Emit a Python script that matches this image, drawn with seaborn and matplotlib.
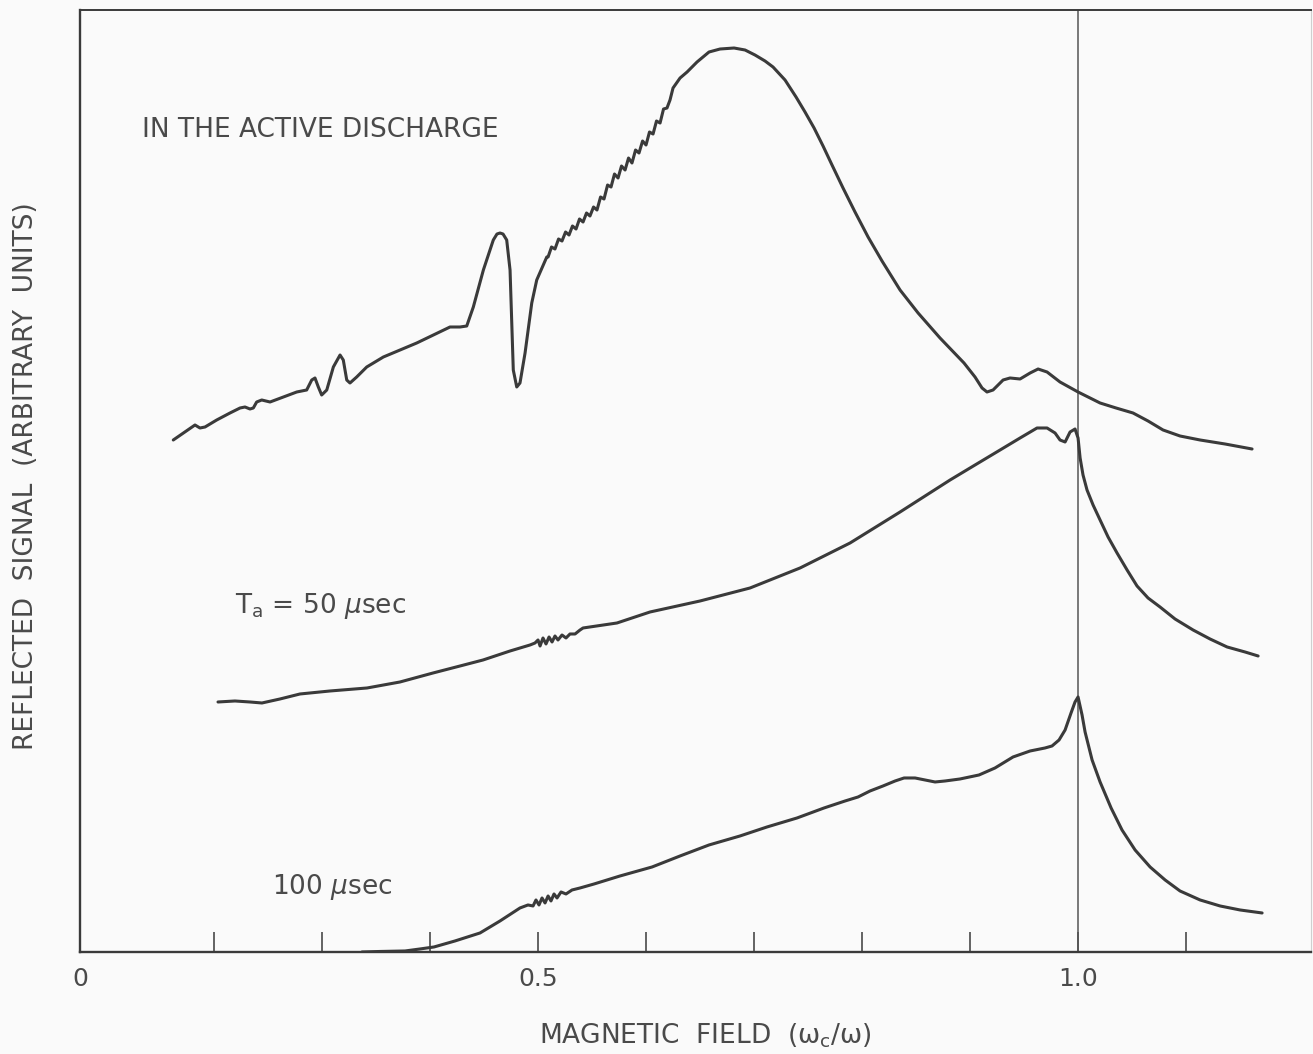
import matplotlib
matplotlib.use("Agg")
import matplotlib.pyplot as plt
import seaborn as sns
import pandas as pd

# Reflected microwave signal vs. magnetic field (omega_c / omega), arbitrary units

# Trace 1: in the active discharge
active_x = [0.1623, 0.1716, 0.1794, 0.1824, 0.1870, 0.1917, 0.2025, 0.2148, 0.2241, 0.2287,
            0.2333, 0.2364, 0.2395, 0.2442, 0.2519, 0.2642, 0.2766, 0.2858, 0.2905, 0.2935,
            0.2966, 0.2997, 0.3044, 0.3105, 0.3167, 0.3197, 0.3229, 0.3259, 0.3321, 0.3414,
            0.3568, 0.3722, 0.3877, 0.4031, 0.4185, 0.4278, 0.4340, 0.4401, 0.4494, 0.4586,
            0.4620, 0.4648, 0.4676, 0.4710, 0.4741, 0.4756, 0.4771, 0.4803, 0.4833, 0.4880,
            0.4942, 0.4988,
            0.5081, 0.5093, 0.5125, 0.5157, 0.5190, 0.5222, 0.5255, 0.5287, 0.5319, 0.5352,
            0.5384, 0.5417, 0.5449, 0.5481, 0.5514, 0.5546, 0.5579, 0.5611, 0.5644, 0.5676,
            0.5708, 0.5741, 0.5773, 0.5806, 0.5838, 0.5870, 0.5903, 0.5935, 0.5968, 0.6000,
            0.6032, 0.6065, 0.6097, 0.6130, 0.6162, 0.6194, 0.6222, 0.6250, 0.6315, 0.6380,
            0.6472, 0.6583, 0.6685, 0.6815, 0.6917, 0.7009, 0.7102, 0.7176, 0.7287, 0.7389,
            0.7472, 0.7556, 0.7639, 0.7722, 0.7824, 0.7935, 0.8056, 0.8185, 0.8352, 0.8519,
            0.8722, 0.8944, 0.9046, 0.9111, 0.9157, 0.9213, 0.9306, 0.9370, 0.9463, 0.9556,
            0.9630, 0.9713, 0.9833, 1.0000, 1.0204, 1.0352, 1.0509, 1.0648, 1.0787, 1.0944,
            1.1130, 1.1361, 1.1611]
active_y = [51.2, 51.9, 52.5, 52.7, 52.4, 52.5, 53.2, 53.9, 54.4, 54.5,
            54.3, 54.4, 55.0, 55.2, 55.0, 55.5, 56.0, 56.2, 57.2, 57.4,
            56.5, 55.7, 56.2, 58.5, 59.7, 59.2, 57.2, 56.9, 57.5, 58.5,
            59.5, 60.2, 60.9, 61.7, 62.5, 62.5, 62.6, 64.5, 68.2, 71.2,
            71.8, 71.9, 71.8, 71.2, 68.2, 63.2, 58.2, 56.5, 56.9, 59.9,
            64.9, 67.2,
            69.5, 69.5, 70.5, 70.3, 71.3, 71.1, 72.0, 71.7, 72.6, 72.3,
            73.3, 73.0, 73.9, 73.6, 74.5, 74.2, 75.5, 75.3, 76.7, 76.5,
            77.8, 77.4, 78.6, 78.2, 79.4, 78.9, 80.2, 79.9, 81.1, 80.7,
            82.0, 81.8, 83.1, 82.9, 84.3, 84.4, 85.2, 86.4, 87.4, 88.0,
            89.0, 90.0, 90.3, 90.4, 90.2, 89.7, 89.1, 88.5, 87.2, 85.5,
            84.0, 82.4, 80.6, 78.7, 76.4, 74.0, 71.5, 69.1, 66.2, 63.9,
            61.4, 58.9, 57.5, 56.4, 56.0, 56.2, 57.2, 57.4, 57.3, 57.9,
            58.3, 58.0, 57.0, 56.0, 54.9, 54.4, 53.9, 53.1, 52.2, 51.6,
            51.2, 50.8, 50.3]

# Trace 2: afterglow, T_a = 50 microseconds
ta50_x = [0.2037, 0.2194, 0.2333, 0.2444, 0.2611, 0.2796, 0.3074, 0.3417, 0.3722, 0.4028,
          0.4278, 0.4491, 0.4741, 0.4926, 0.4972, 0.5000, 0.5019, 0.5046, 0.5074, 0.5102,
          0.5130, 0.5157, 0.5185, 0.5222, 0.5259, 0.5296, 0.5343, 0.5389, 0.5417, 0.5731,
          0.6037, 0.6500, 0.6963, 0.7426, 0.7889, 0.8352, 0.8815, 0.9046, 0.9278,
          0.9463, 0.9620, 0.9713, 0.9787, 0.9833, 0.9880, 0.9926, 0.9972, 1.0000, 1.0019,
          1.0046, 1.0083, 1.0139, 1.0204, 1.0278, 1.0361, 1.0454, 1.0546, 1.0648, 1.0759,
          1.0898, 1.1065, 1.1222, 1.1380, 1.1546, 1.1667]
ta50_y = [25.0, 25.1, 25.0, 24.9, 25.3, 25.8, 26.1, 26.4, 27.0, 27.9,
          28.6, 29.2, 30.1, 30.7, 30.9, 31.2, 30.6, 31.4, 30.8, 31.5,
          31.0, 31.6, 31.2, 31.7, 31.4, 31.8, 31.8, 32.2, 32.4, 32.9,
          34.0, 35.1, 36.4, 38.4, 40.9, 44.0, 47.2, 48.7, 50.2,
          51.4, 52.4, 52.4, 51.9, 51.2, 51.0, 52.0, 52.3, 51.4, 49.4,
          47.7, 46.2, 44.7, 43.2, 41.5, 39.9, 38.2, 36.6, 35.4, 34.5,
          33.3, 32.2, 31.3, 30.5, 30.0, 29.6]

# Trace 3: afterglow, 100 microseconds
ta100_x = [0.3370, 0.3537, 0.3769, 0.3907, 0.4037, 0.4231, 0.4463, 0.4648, 0.4833, 0.4907,
           0.4954, 0.4981, 0.5009, 0.5037, 0.5065, 0.5093, 0.5120, 0.5148, 0.5176, 0.5213,
           0.5259, 0.5315, 0.5389, 0.5519, 0.5759, 0.6056, 0.6315, 0.6583, 0.6870, 0.7120,
           0.7398, 0.7648, 0.7843, 0.7963, 0.8074, 0.8194, 0.8306, 0.8389, 0.8491, 0.8583,
           0.8676, 0.8769, 0.8907, 0.9083, 0.9231, 0.9398, 0.9556, 0.9694, 0.9759, 0.9824,
           0.9880, 0.9935, 0.9972, 1.0000, 1.0037, 1.0065, 1.0130, 1.0204, 1.0306, 1.0407,
           1.0528, 1.0667, 1.0806, 1.0944, 1.1130, 1.1315, 1.1500, 1.1704]
ta100_y = [0.0, 0.05, 0.1, 0.3, 0.5, 1.1, 1.9, 3.1, 4.4, 4.7,
           4.6, 5.2, 4.7, 5.4, 4.9, 5.6, 5.1, 5.8, 5.4, 6.0,
           5.8, 6.2, 6.4, 6.8, 7.6, 8.5, 9.6, 10.7, 11.6, 12.5,
           13.4, 14.4, 15.1, 15.5, 16.1, 16.6, 17.1, 17.4, 17.4, 17.2,
           17.0, 17.1, 17.3, 17.7, 18.4, 19.5, 20.1, 20.4, 20.6, 21.2,
           22.2, 23.9, 25.0, 25.5, 23.7, 22.0, 19.2, 17.0, 14.4, 12.2,
           10.2, 8.5, 7.2, 6.1, 5.2, 4.6, 4.2, 3.9]

# Axis layout values (field units)
x_origin = 0.0759          # left edge of the plot, labelled "0"
x_end = 1.2157
tick_positions = [0.2, 0.3, 0.4, 0.5, 0.6, 0.7, 0.8, 0.9, 1.0, 1.1]
tick_labels = ["", "", "", "0.5", "", "", "", "", "1.0", ""]
cyclotron_line = 1.0

curve_labels = ["IN THE ACTIVE DISCHARGE", "T$_{\\mathrm{a}}$ = 50 $\\mu$sec", "100 $\\mu$sec"]
label_x = [0.1333, 0.2194, 0.2537]
label_y = [82.2, 34.6, 6.5]

sns.set_theme(style="white")
plt.rcParams["font.family"] = ["DejaVu Sans"]

ink = "#3a3a3a"
text_ink = "#4a4a4a"

fig = plt.figure(figsize=(13.13, 10.54), dpi=100, facecolor="#fafafa")
ax = fig.add_axes([0.0609, 0.0968, 0.9376, 0.8937])
ax.set_facecolor("#fafafa")

traces = [
    pd.DataFrame({"field": active_x, "signal": active_y}),
    pd.DataFrame({"field": ta50_x, "signal": ta50_y}),
    pd.DataFrame({"field": ta100_x, "signal": ta100_y}),
]
for df in traces:
    sns.lineplot(data=df, x="field", y="signal", sort=False, estimator=None,
                 color=ink, linewidth=2.2, solid_joinstyle="round",
                 solid_capstyle="round", ax=ax)

ax.axvline(cyclotron_line, color="#555555", linewidth=1.1, zorder=1)

ax.set_xlim(x_origin, x_end)
ax.set_ylim(0, 94.2)

ax.set_xticks([x_origin] + tick_positions)
ax.set_xticklabels(["0"] + tick_labels, fontsize=18, color=text_ink)
ax.tick_params(axis="x", direction="in", length=14.5, width=1.1, color=ink,
               pad=11, bottom=True)
ax.set_yticks([])

for side in ["left", "bottom"]:
    ax.spines[side].set_color(ink)
    ax.spines[side].set_linewidth(1.7)
ax.spines["top"].set_color(ink)
ax.spines["top"].set_linewidth(1.4)
ax.spines["right"].set_color("#cfcfcf")
ax.spines["right"].set_linewidth(0.8)

ax.set_xlabel("MAGNETIC  FIELD  (ω$_\\mathrm{c}$/ω)", fontsize=19, color=text_ink)
ax.xaxis.set_label_coords(0.5077, -0.0735)
ax.set_ylabel("REFLECTED  SIGNAL  (ARBITRARY  UNITS)", fontsize=19, color=text_ink)
ax.yaxis.set_label_coords(-0.0335, 0.505)

for txt, lx, ly in zip(curve_labels, label_x, label_y):
    ax.text(lx, ly, txt, fontsize=19, color=text_ink, ha="left", va="center")

fig.savefig("out.png", dpi=100, facecolor=fig.get_facecolor())
